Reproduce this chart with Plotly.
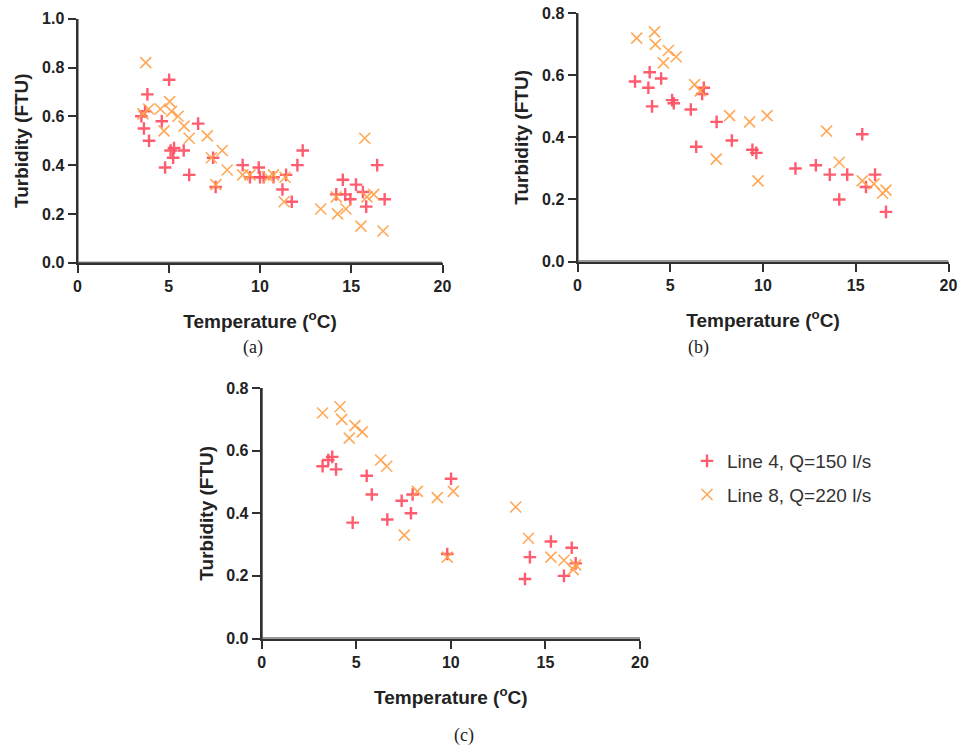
import plotly.graph_objects as go

# ---------------- data ----------------
# Panel (a)
a_line4_temp = [3.5, 3.7, 3.83, 3.64, 3.92, 4.62, 4.8, 5.02, 5.1, 5.29, 5.24, 5.82, 6.12, 6.61, 7.43, 7.57,
                9.05, 9.45, 9.93, 10.0, 10.2, 10.74, 11.43, 11.23, 11.74, 12.05, 12.34, 14.18, 14.54, 14.67,
                14.95, 15.26, 15.64, 15.82, 16.42, 16.83]
a_line4_turb = [0.60, 0.62, 0.69, 0.55, 0.50, 0.58, 0.39, 0.75, 0.46, 0.47, 0.43, 0.46, 0.36, 0.57, 0.43, 0.31,
                0.40, 0.35, 0.39, 0.35, 0.35, 0.35, 0.36, 0.30, 0.25, 0.40, 0.46, 0.28, 0.34, 0.28,
                0.26, 0.32, 0.29, 0.23, 0.40, 0.26]
a_line8_temp = [3.74, 5.05, 3.9, 3.59, 4.54, 5.15, 5.51, 5.84, 4.74, 6.12, 7.11, 7.93, 7.34, 8.2, 9.05, 9.45,
                7.58, 10.46, 10.74, 11.37, 11.32, 13.33, 14.18, 14.25, 14.71, 15.74, 15.53, 15.86, 16.23, 16.74]
a_line8_turb = [0.82, 0.66, 0.63, 0.61, 0.63, 0.62, 0.60, 0.56, 0.54, 0.51, 0.52, 0.46, 0.43, 0.38, 0.36, 0.36,
                0.32, 0.35, 0.36, 0.35, 0.25, 0.22, 0.27, 0.20, 0.22, 0.51, 0.15, 0.27, 0.28, 0.13]

# Panel (b)
b_line4_temp = [3.1, 3.89, 3.82, 4.51, 4.02, 5.1, 5.19, 6.11, 6.81, 6.72, 7.5, 6.4, 8.32, 9.43, 9.64,
                11.75, 12.85, 13.6, 14.54, 14.11, 15.35, 15.55, 16.04, 16.63]
b_line4_turb = [0.58, 0.61, 0.56, 0.59, 0.50, 0.52, 0.51, 0.49, 0.56, 0.54, 0.45, 0.37, 0.39, 0.36, 0.35,
                0.30, 0.31, 0.28, 0.28, 0.20, 0.41, 0.24, 0.28, 0.16]
b_line8_temp = [3.19, 4.15, 4.2, 4.9, 5.32, 4.63, 6.31, 6.62, 8.2, 9.28, 7.48, 9.73, 10.22, 13.43, 14.11,
                15.35, 15.98, 16.45, 16.63]
b_line8_turb = [0.72, 0.74, 0.70, 0.68, 0.66, 0.64, 0.57, 0.55, 0.47, 0.45, 0.33, 0.26, 0.47, 0.42, 0.32,
                0.26, 0.25, 0.22, 0.23]

# Panel (c)
c_line4_temp = [3.22, 3.52, 3.73, 3.93, 5.55, 5.82, 4.81, 6.64, 7.4, 7.98, 7.89, 9.81, 10.01, 14.18, 13.92,
                15.29, 16.39, 15.98, 16.6]
c_line4_turb = [0.55, 0.57, 0.58, 0.54, 0.52, 0.46, 0.37, 0.38, 0.44, 0.46, 0.40, 0.27, 0.51, 0.26, 0.19,
                0.31, 0.29, 0.20, 0.24]
c_line8_temp = [3.22, 4.14, 4.23, 4.93, 5.32, 4.63, 6.29, 6.61, 8.23, 9.28, 7.54, 9.81, 10.13, 13.43, 14.1,
                15.29, 15.98, 16.47, 16.6]
c_line8_turb = [0.72, 0.74, 0.70, 0.68, 0.66, 0.64, 0.57, 0.55, 0.47, 0.45, 0.33, 0.26, 0.47, 0.42, 0.32,
                0.26, 0.25, 0.22, 0.235]

series_names = ["Line 4, Q=150 l/s", "Line 8, Q=220 l/s"]
x_ticks = [0, 5, 10, 15, 20]
y_ticks_a = [0.0, 0.2, 0.4, 0.6, 0.8, 1.0]
y_ticks_bc = [0.0, 0.2, 0.4, 0.6, 0.8]
x_range = [0, 20]
y_range_a = [0, 1.0]
y_range_bc = [0, 0.8]
captions = ["(a)", "(b)", "(c)"]

# ---------------- styles ----------------
W, H = 963, 748
RED = "rgba(255,75,95,0.9)"
ORANGE = "rgba(255,160,70,0.9)"
red_marker = dict(symbol="cross-thin", size=9, line=dict(width=2.4, color=RED), color=RED)
orange_marker = dict(symbol="x-thin", size=11, line=dict(width=1.6, color=ORANGE), color=ORANGE)
AXIS_COLOR = "#303030"
AXIS_W = 2
TICK_LEN = 8

# subplot domains (paper fractions)
dom = {
    "a": ([77.5 / W, 442.5 / W], [1 - 262.7 / H, 1 - 18.7 / H]),
    "b": ([577.5 / W, 948.5 / W], [1 - 261.5 / H, 1 - 13.3 / H]),
    "c": ([261.7 / W, 640 / W], [1 - 638.5 / H, 1 - 388 / H]),
}

fig = go.Figure()
panels = [
    ("a", "x", "y", a_line4_temp, a_line4_turb, a_line8_temp, a_line8_turb, True, y_ticks_a, y_range_a),
    ("b", "x2", "y2", b_line4_temp, b_line4_turb, b_line8_temp, b_line8_turb, False, y_ticks_bc, y_range_bc),
    ("c", "x3", "y3", c_line4_temp, c_line4_turb, c_line8_temp, c_line8_turb, False, y_ticks_bc, y_range_bc),
]
for key, xa, ya, t4, v4, t8, v8, show, yt, yr in panels:
    xd, yd = dom[key]
    # data units per pixel, derived from the axis ranges and domains
    ux = (x_range[1] - x_range[0]) / ((xd[1] - xd[0]) * W)
    uy = (yr[1] - yr[0]) / ((yd[1] - yd[0]) * H)
    axis_style = dict(showlegend=False, hoverinfo="skip", cliponaxis=False, xaxis=xa, yaxis=ya)
    # axis lines drawn along the axis ranges
    fig.add_trace(go.Scatter(x=[x_range[0], x_range[0], None, x_range[0], x_range[1]],
                             y=[yr[0], yr[1], None, yr[0], yr[0]], mode="lines",
                             line=dict(color=AXIS_COLOR, width=AXIS_W), **axis_style))
    # outside tick marks
    fig.add_trace(go.Scatter(x=x_ticks, y=[yr[0] - uy * TICK_LEN / 2] * len(x_ticks), mode="markers",
                             marker=dict(symbol="line-ns", size=TICK_LEN, color=AXIS_COLOR,
                                         line=dict(color=AXIS_COLOR, width=AXIS_W)), **axis_style))
    fig.add_trace(go.Scatter(x=[x_range[0] - ux * TICK_LEN / 2] * len(yt), y=yt, mode="markers",
                             marker=dict(symbol="line-ew", size=TICK_LEN, color=AXIS_COLOR,
                                         line=dict(color=AXIS_COLOR, width=AXIS_W)), **axis_style))
    # data
    fig.add_trace(go.Scatter(x=t4, y=v4, mode="markers", marker=red_marker, name=series_names[0],
                             legendgroup="l4", showlegend=show, xaxis=xa, yaxis=ya, cliponaxis=False))
    fig.add_trace(go.Scatter(x=t8, y=v8, mode="markers", marker=orange_marker, name=series_names[1],
                             legendgroup="l8", showlegend=show, xaxis=xa, yaxis=ya, cliponaxis=False))

FAM = "Liberation Sans"
tick_font = dict(family=FAM, size=16, color="#222", weight="bold")
title_font = dict(family=FAM, size=19, color="#222", weight="bold")


def xaxis(domain, anchor):
    return dict(domain=domain, anchor=anchor, range=x_range, tickvals=x_ticks, showline=True,
                linecolor=AXIS_COLOR, linewidth=AXIS_W, ticks="outside", ticklen=TICK_LEN,
                tickwidth=AXIS_W, tickcolor=AXIS_COLOR,
                showgrid=False, zeroline=False, tickfont=tick_font, automargin=False,
                title=dict(text="Temperature (<sup>o</sup>C)", font=title_font, standoff=21))


def yaxis(domain, anchor, rng, ticks):
    return dict(domain=domain, anchor=anchor, range=rng, tickvals=ticks, tickformat=".1f",
                showline=True, linecolor=AXIS_COLOR, linewidth=AXIS_W, ticks="outside",
                ticklen=TICK_LEN, tickwidth=AXIS_W, tickcolor=AXIS_COLOR,
                showgrid=False, zeroline=False, tickfont=tick_font, automargin=False,
                title=dict(text="Turbidity (FTU)", font=title_font, standoff=8))


fig.update_layout(
    width=W, height=H, margin=dict(l=0, r=0, t=0, b=0, autoexpand=False),
    plot_bgcolor="white", paper_bgcolor="white",
    xaxis=xaxis(dom["a"][0], "y"),
    yaxis=yaxis(dom["a"][1], "x", y_range_a, y_ticks_a),
    xaxis2=xaxis(dom["b"][0], "y2"),
    yaxis2=yaxis(dom["b"][1], "x2", y_range_bc, y_ticks_bc),
    xaxis3=xaxis(dom["c"][0], "y3"),
    yaxis3=yaxis(dom["c"][1], "x3", y_range_bc, y_ticks_bc),
    legend=dict(x=687 / W, y=1 - 442 / H, xanchor="left", yanchor="top",
                font=dict(family=FAM, size=19, color="#333"),
                bgcolor="rgba(0,0,0,0)", traceorder="grouped", tracegroupgap=6,
                itemwidth=30),
    showlegend=True,
)

cap_pos = [(253, 347), (698, 347), (464, 735)]
for text, (cx, cy) in zip(captions, cap_pos):
    fig.add_annotation(text=text, x=cx / W, y=1 - cy / H, xref="paper", yref="paper",
                       showarrow=False, xanchor="center", yanchor="middle",
                       font=dict(family="Liberation Serif", size=18, color="#222"))

fig.write_html(
    "out.html",
    config={"displayModeBar": False},
    post_script="document.body.style.margin='0';",
)
